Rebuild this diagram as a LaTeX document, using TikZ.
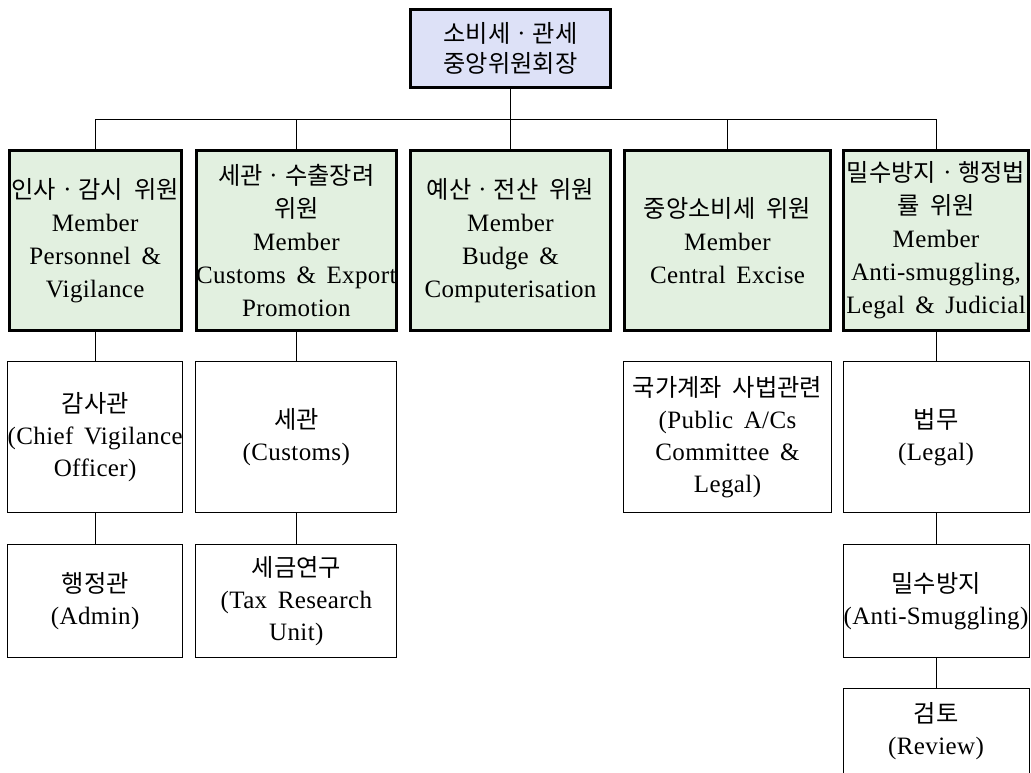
\documentclass[tikz,border=0pt]{standalone}
\usepackage{fontspec}
\setmainfont{Liberation Serif}[LetterSpace=1.5,WordSpace=1.6]
\newfontfamily\kr{Noto Sans CJK KR}[Scale=0.97,WordSpace=2]
\usetikzlibrary{positioning}
\definecolor{chairblue}{RGB}{221,225,247}
\definecolor{membergreen}{RGB}{226,240,224}
\tikzset{
    chair/.style = {
        draw, line width=3pt,
        fill = chairblue,
        minimum width=200pt, minimum height=78pt,
        align=center, inner sep=0pt, outer sep=0pt,
        font=\fontsize{25}{30}\selectfont,
        },
    member/.style = {
        draw, line width=3pt,
        fill = membergreen,
        minimum height=180pt,
        align=center, inner sep=0pt, outer sep=0pt,
        font=\fontsize{25}{33}\selectfont,
        },
    office/.style = {
        draw, line width=0.9pt,
        minimum height=151pt,
        align=center, inner sep=0pt, outer sep=0pt,
        font=\fontsize{25}{32}\selectfont,
        },
    office low/.style = {
        office,
        minimum height=113pt,
        },
    link/.style = {
        line width=1pt,
        },
}

\begin{document}
\begin{tikzpicture}
    \useasboundingbox (0pt,0pt) rectangle (1031pt,-773pt);

    % chairman
    \node[chair] (top) at (510.5pt,-48.5pt) {{\kr 소비세ㆍ관세}\\{\kr 중앙위원회장}};

    % members
    \node[member, minimum width=200pt, below=63pt of top] (m3) {{\kr 예산ㆍ전산 위원}\\Member\\Budge \&\\Computerisation};
    \node[member, minimum width=199pt, left=14pt of m3] (m2) {{\kr 세관ㆍ수출장려}\\{\kr 위원}\\Member\\Customs \& Export\\Promotion};
    \node[member, minimum width=172pt, left=15pt of m2] (m1) {{\kr 인사ㆍ감시 위원}\\Member\\Personnel \&\\Vigilance};
    \node[member, minimum width=206pt, right=14pt of m3] (m4) {{\kr 중앙소비세 위원}\\Member\\Central Excise};
    \node[member, minimum width=185pt, right=13pt of m4] (m5) {{\kr 밀수방지ㆍ행정법}\\{\kr 률 위원}\\Member\\Anti-smuggling,\\Legal \& Judicial};

    % offices
    \node[office, minimum width=175pt, below=31pt of m1] (w1a) {{\kr 감사관}\\(Chief Vigilance\\Officer)};
    \node[office low, minimum width=175pt, below=32pt of w1a] (w1b) {{\kr 행정관}\\(Admin)};
    \node[office, minimum width=201pt, below=31pt of m2] (w2a) {{\kr 세관}\\(Customs)};
    \node[office low, minimum width=201pt, below=32pt of w2a] (w2b) {{\kr 세금연구}\\(Tax Research\\Unit)};
    \node[office, minimum width=208pt, below=31pt of m4] (w4a) {{\kr 국가계좌 사법관련}\\(Public A/Cs\\Committee \&\\Legal)};
    \node[office, minimum width=186pt, below=31pt of m5] (w5a) {{\kr 법무}\\(Legal)};
    \node[office low, minimum width=186pt, below=32pt of w5a] (w5b) {{\kr 밀수방지}\\(Anti-Smuggling)};
    \node[office low, minimum width=186pt, minimum height=86pt, below=31pt of w5b] (w5c) {{\kr 검토}\\(Review)};

    % connectors
    \path (top.south) ++(0,-32pt) coordinate (bus);
    \draw[link] (top) -- (bus);
    \foreach \m in {m1,m2,m3,m4,m5}
        \draw[link] (bus) -| (\m);
    \draw[link] (m1) -- (w1a);
    \draw[link] (w1a) -- (w1b);
    \draw[link] (m2) -- (w2a);
    \draw[link] (w2a) -- (w2b);
    \draw[link] (m5) -- (w5a);
    \draw[link] (w5a) -- (w5b);
    \draw[link] (w5b) -- (w5c);
\end{tikzpicture}
\end{document}
